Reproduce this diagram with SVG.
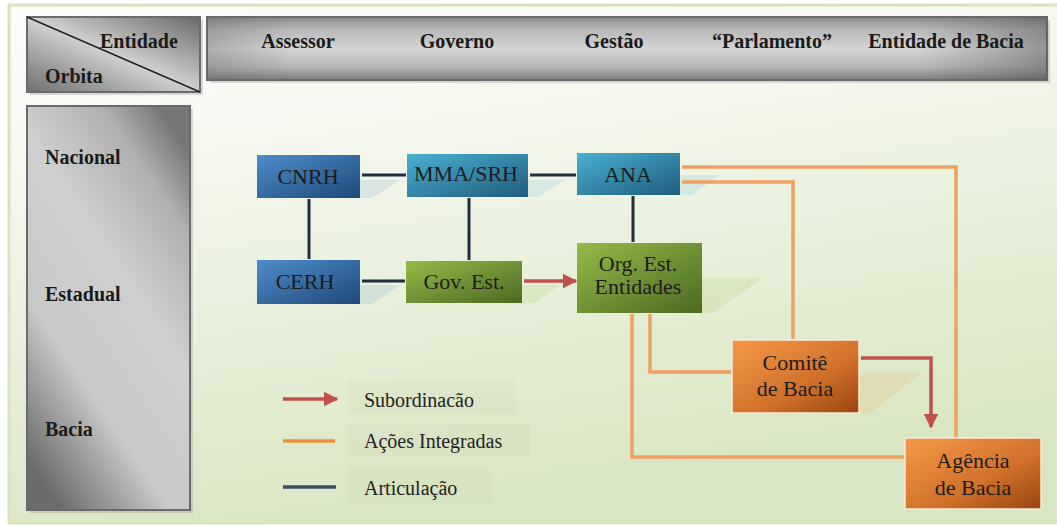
<svg xmlns="http://www.w3.org/2000/svg" width="1057" height="526" viewBox="0 0 1057 526">
<style>
text{font-family:"Liberation Serif","Times New Roman",Times,serif}
.hdr{font-weight:bold;font-size:20px;fill:#1a1a1a}
.nt{font-size:22px;fill:#1c1c1c;text-anchor:middle}
.lg{font-size:20px;fill:#222}
.art{stroke:#1f2e40;stroke-width:3;fill:none}
.int{stroke:#f0a060;stroke-width:3.5;fill:none}
.sub{stroke:#c0504d;stroke-width:3.5;fill:none}
.gbox{stroke:#6a6a6a;stroke-width:2}
.shd{opacity:0.15}
</style>
<defs>
<linearGradient id="bg" x1="0" y1="0" x2="0.3" y2="1">
<stop offset="0" stop-color="#fcfcfa"/>
<stop offset="0.25" stop-color="#f7f9f2"/>
<stop offset="1" stop-color="#d9e6c3"/>
</linearGradient>
<linearGradient id="hbar" x1="0" y1="0" x2="0" y2="1">
<stop offset="0" stop-color="#8a8a8a"/>
<stop offset="0.2" stop-color="#b8b8b8"/>
<stop offset="0.5" stop-color="#d4d4d4"/>
<stop offset="0.8" stop-color="#b4b4b4"/>
<stop offset="1" stop-color="#7c7c7c"/>
</linearGradient>
<linearGradient id="hside" x1="0" y1="0" x2="1" y2="0">
<stop offset="0" stop-color="#666" stop-opacity="0.35"/>
<stop offset="0.1" stop-color="#666" stop-opacity="0"/>
<stop offset="0.85" stop-color="#666" stop-opacity="0"/>
<stop offset="1" stop-color="#555" stop-opacity="0.5"/>
</linearGradient>
<linearGradient id="corner" x1="0" y1="1" x2="1" y2="0">
<stop offset="0" stop-color="#6e6e6e"/>
<stop offset="0.5" stop-color="#d0d0d0"/>
<stop offset="1" stop-color="#6a6a6a"/>
</linearGradient>
<linearGradient id="col" x1="0.2" y1="1" x2="0.8" y2="0">
<stop offset="0" stop-color="#6a6a6a"/>
<stop offset="0.3" stop-color="#c9c9c9"/>
<stop offset="0.6" stop-color="#cfcfcf"/>
<stop offset="0.85" stop-color="#b0b0b0"/>
<stop offset="1" stop-color="#777"/>
</linearGradient>
<linearGradient id="blue" x1="0" y1="0" x2="1" y2="1">
<stop offset="0" stop-color="#4f8ccb"/>
<stop offset="1" stop-color="#1e4a78"/>
</linearGradient>
<linearGradient id="teal" x1="0" y1="0" x2="1" y2="1">
<stop offset="0" stop-color="#4ab0d2"/>
<stop offset="1" stop-color="#205c7c"/>
</linearGradient>
<linearGradient id="green" x1="0" y1="0" x2="1" y2="1">
<stop offset="0" stop-color="#94bb48"/>
<stop offset="1" stop-color="#4b6a22"/>
</linearGradient>
<linearGradient id="orange" x1="0" y1="0" x2="1" y2="1">
<stop offset="0" stop-color="#f59a48"/>
<stop offset="0.6" stop-color="#d0702a"/>
<stop offset="1" stop-color="#9a4410"/>
</linearGradient>
<marker id="arr" viewBox="0 0 10 10" refX="9" refY="5" markerWidth="4.2" markerHeight="4.2" markerUnits="strokeWidth" orient="auto">
<path d="M0,0 L10,5 L0,10 z" fill="#c0504d"/>
</marker>
</defs>

<rect x="0" y="0" width="1057" height="526" fill="#ffffff"/>
<rect x="9" y="5" width="1050" height="518" fill="url(#bg)" stroke="#d6e5bb" stroke-width="3"/>

<g id="header-corner">
<rect x="30" y="20" width="173" height="75" fill="#999" opacity="0.35"/>
<rect x="27" y="17" width="173" height="75" fill="url(#corner)" class="gbox"/>
<line x1="27" y1="17" x2="200" y2="92" stroke="#222" stroke-width="1.5"/>
<text class="hdr" x="100" y="48">Entidade</text>
<text class="hdr" x="45" y="83">Orbita</text>
</g>

<g id="header-bar">
<rect x="210" y="20" width="840" height="63" fill="#999" opacity="0.35"/>
<rect x="207" y="17" width="840" height="63" fill="url(#hbar)" class="gbox"/>
<rect x="207" y="17" width="840" height="63" fill="url(#hside)"/>
<text class="hdr" x="298" y="48" text-anchor="middle">Assessor</text>
<text class="hdr" x="457" y="48" text-anchor="middle">Governo</text>
<text class="hdr" x="614" y="48" text-anchor="middle">Gestão</text>
<text class="hdr" x="772" y="48" text-anchor="middle">“Parlamento”</text>
<text class="hdr" x="946" y="48" text-anchor="middle">Entidade de Bacia</text>
</g>

<g id="orbit-column">
<rect x="30" y="109" width="163" height="404" fill="#999" opacity="0.35"/>
<rect x="27" y="106" width="163" height="404" fill="url(#col)" class="gbox"/>
<text class="hdr" x="45" y="164" font-size="21">Nacional</text>
<text class="hdr" x="45" y="301" font-size="21">Estadual</text>
<text class="hdr" x="45" y="436" font-size="21">Bacia</text>
</g>

<g id="shadows">
<polygon class="shd" points="360,180 400,180 372,198 360,198" fill="#5a90c8"/>
<polygon class="shd" points="528,180 565,180 538,197 528,197" fill="#4ab0d2"/>
<polygon class="shd" points="680,175 720,175 692,195 680,195" fill="#4ab0d2"/>
<polygon class="shd" points="360,285 400,285 372,304 360,304" fill="#5a90c8"/>
<polygon class="shd" points="522,285 560,285 534,303 522,303" fill="#94bb48"/>
<polygon class="shd" points="702,278 763,278 712,313 702,313" fill="#94bb48"/>
<polygon class="shd" points="859,373 922,373 870,413 859,413" fill="#f59a48"/>
</g>

<g id="connectors">
<line class="art" x1="362" y1="175" x2="406" y2="175"/>
<line class="art" x1="530" y1="175" x2="576" y2="175"/>
<line class="art" x1="309" y1="199" x2="309" y2="259"/>
<line class="art" x1="469" y1="198" x2="469" y2="260"/>
<line class="art" x1="633" y1="196" x2="633" y2="242"/>
<line class="art" x1="362" y1="281" x2="405" y2="281"/>
<line class="sub" x1="524" y1="281" x2="576" y2="281" marker-end="url(#arr)"/>
<polyline class="int" points="682,167 956,167 956,437"/>
<polyline class="int" points="682,182 793,182 793,339"/>
<polyline class="int" points="650,314 650,372 731,372"/>
<polyline class="int" points="632,314 632,457 904,457"/>
<polyline class="sub" points="861,358 931,358 931,427" marker-end="url(#arr)"/>
</g>

<g id="node-cnrh">
<rect x="257" y="155" width="103" height="43" fill="url(#blue)"/>
<text class="nt" x="308" y="184">CNRH</text>
</g>
<g id="node-mma">
<rect x="407" y="154" width="121" height="43" fill="url(#teal)"/>
<text class="nt" x="466" y="181" font-size="17">MMA/SRH</text>
</g>
<g id="node-ana">
<rect x="577" y="153" width="103" height="42" fill="url(#teal)"/>
<text class="nt" x="628" y="182">ANA</text>
</g>
<g id="node-cerh">
<rect x="257" y="260" width="103" height="44" fill="url(#blue)"/>
<text class="nt" x="305" y="289">CERH</text>
</g>
<g id="node-govest">
<rect x="406" y="261" width="116" height="42" fill="url(#green)"/>
<text class="nt" x="464" y="289" font-size="21">Gov. Est.</text>
</g>
<g id="node-org">
<rect x="577" y="243" width="125" height="70" fill="url(#green)"/>
<text class="nt" x="638" y="271" font-size="21">Org. Est.</text>
<text class="nt" x="638" y="294" font-size="21">Entidades</text>
</g>
<g id="node-comite">
<rect x="732" y="340" width="127" height="73" fill="url(#orange)" stroke="#fbe9d6" stroke-width="1.5"/>
<text class="nt" x="795" y="370">Comitê</text>
<text class="nt" x="795" y="396">de Bacia</text>
</g>
<g id="node-agencia">
<rect x="905" y="438" width="136" height="71" fill="url(#orange)" stroke="#fbe9d6" stroke-width="1.5"/>
<text class="nt" x="973" y="468">Agência</text>
<text class="nt" x="973" y="495">de Bacia</text>
</g>

<g id="legend">
<rect x="348" y="380" width="167" height="34" fill="#cfdcb8" opacity="0.3"/>
<rect x="348" y="423" width="182" height="34" fill="#cfdcb8" opacity="0.3"/>
<rect x="348" y="468" width="142" height="36" fill="#cfdcb8" opacity="0.3"/>
<line class="sub" x1="283" y1="399" x2="337" y2="399" marker-end="url(#arr)"/>
<line x1="283" y1="441" x2="335" y2="441" stroke="#e8903a" stroke-width="3.5"/>
<line x1="283" y1="487" x2="336" y2="487" stroke="#3a4d66" stroke-width="3.5"/>
<text class="lg" x="364" y="407">Subordinacão</text>
<text class="lg" x="364" y="448">Ações Integradas</text>
<text class="lg" x="364" y="495">Articulação</text>
</g>
</svg>
